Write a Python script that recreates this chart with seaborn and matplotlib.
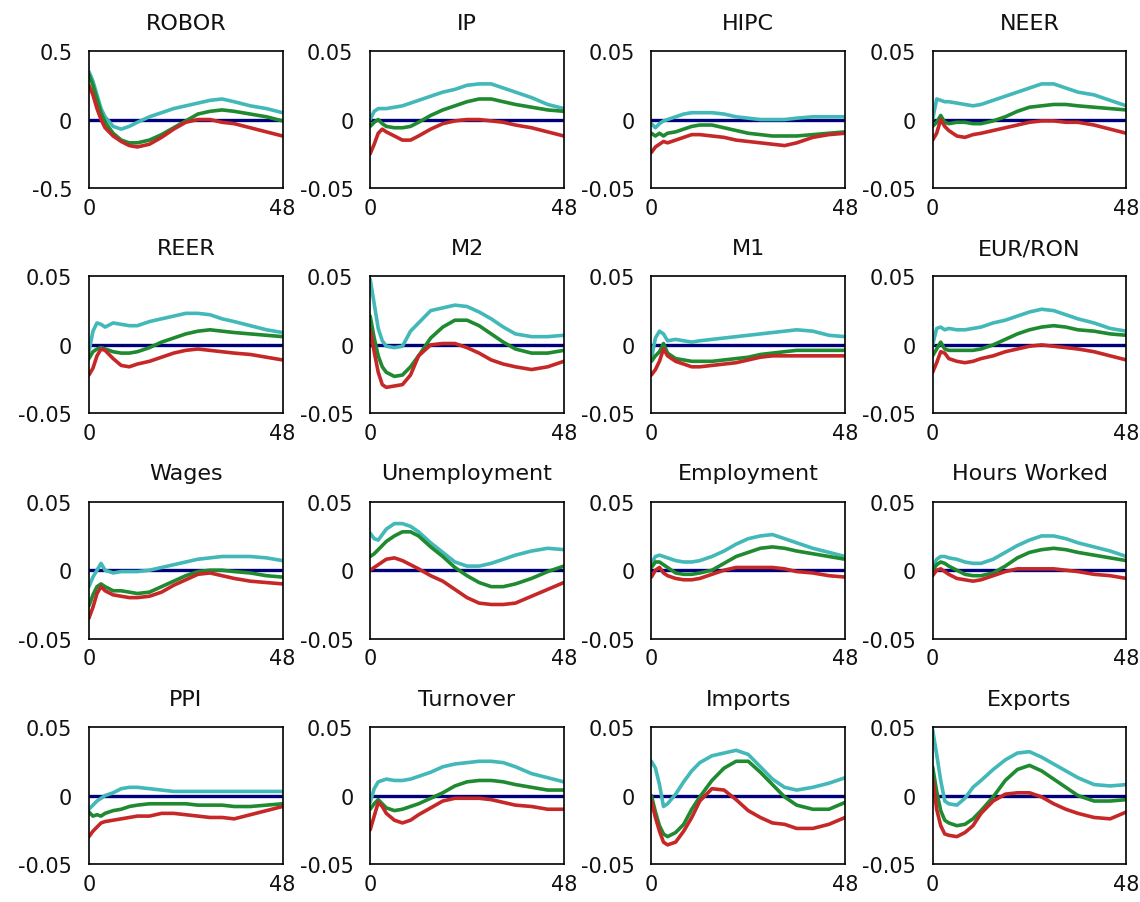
import matplotlib
matplotlib.use("Agg")
import matplotlib.pyplot as plt
import seaborn as sns
import pandas as pd

HORIZON = [0, 1, 2, 3, 4, 6, 8, 10, 12, 15, 18, 21, 24, 27, 30, 33, 36, 40, 44, 48]

TITLES = ["ROBOR", "IP", "HIPC", "NEER",
          "REER", "M2", "M1", "EUR/RON",
          "Wages", "Unemployment", "Employment", "Hours Worked",
          "PPI", "Turnover", "Imports", "Exports"]

# Each panel: (upper band, median, lower band)
ROBOR = (
    [0.35, 0.28, 0.18, 0.08, 0.02, -0.05, -0.07, -0.05, -0.02, 0.02, 0.05, 0.08, 0.10, 0.12, 0.14, 0.15, 0.13, 0.10, 0.08, 0.05],
    [0.33, 0.25, 0.15, 0.05, -0.02, -0.10, -0.15, -0.17, -0.17, -0.15, -0.11, -0.06, -0.01, 0.04, 0.06, 0.07, 0.06, 0.04, 0.02, -0.01],
    [0.25, 0.18, 0.08, 0.00, -0.06, -0.12, -0.16, -0.19, -0.20, -0.18, -0.13, -0.07, -0.02, 0.00, 0.00, -0.02, -0.03, -0.06, -0.09, -0.12],
)
IP = (
    [0.000, 0.006, 0.008, 0.008, 0.008, 0.009, 0.010, 0.012, 0.014, 0.017, 0.020, 0.022, 0.025, 0.026, 0.026, 0.023, 0.020, 0.016, 0.011, 0.008],
    [-0.005, -0.002, 0.000, -0.003, -0.005, -0.006, -0.006, -0.005, -0.002, 0.003, 0.007, 0.010, 0.013, 0.015, 0.015, 0.013, 0.011, 0.009, 0.007, 0.006],
    [-0.025, -0.018, -0.010, -0.007, -0.009, -0.012, -0.015, -0.015, -0.012, -0.007, -0.003, -0.001, 0.000, 0.000, -0.001, -0.002, -0.004, -0.006, -0.009, -0.012],
)
HIPC = (
    [-0.003, -0.006, -0.003, -0.001, 0.000, 0.002, 0.004, 0.005, 0.005, 0.005, 0.004, 0.002, 0.001, 0.000, 0.000, 0.000, 0.001, 0.002, 0.002, 0.002],
    [-0.010, -0.012, -0.010, -0.012, -0.010, -0.009, -0.007, -0.005, -0.004, -0.004, -0.006, -0.008, -0.010, -0.011, -0.012, -0.012, -0.012, -0.011, -0.010, -0.009],
    [-0.024, -0.020, -0.018, -0.016, -0.017, -0.015, -0.013, -0.011, -0.011, -0.012, -0.013, -0.015, -0.016, -0.017, -0.018, -0.019, -0.017, -0.013, -0.011, -0.010],
)
NEER = (
    [0.000, 0.015, 0.014, 0.013, 0.013, 0.012, 0.011, 0.010, 0.011, 0.014, 0.017, 0.020, 0.023, 0.026, 0.026, 0.023, 0.020, 0.018, 0.014, 0.010],
    [-0.005, -0.002, 0.003, -0.002, -0.003, -0.002, -0.002, -0.003, -0.003, -0.001, 0.002, 0.006, 0.009, 0.010, 0.011, 0.011, 0.010, 0.009, 0.008, 0.007],
    [-0.015, -0.010, 0.000, -0.005, -0.008, -0.012, -0.013, -0.011, -0.010, -0.008, -0.006, -0.004, -0.002, -0.001, -0.001, -0.002, -0.002, -0.004, -0.007, -0.010],
)
REER = (
    [-0.005, 0.010, 0.016, 0.015, 0.013, 0.016, 0.015, 0.014, 0.014, 0.017, 0.019, 0.021, 0.023, 0.023, 0.022, 0.019, 0.017, 0.014, 0.011, 0.009],
    [-0.010, -0.005, -0.003, -0.002, -0.003, -0.005, -0.006, -0.006, -0.005, -0.002, 0.002, 0.005, 0.008, 0.010, 0.011, 0.010, 0.009, 0.008, 0.007, 0.006],
    [-0.022, -0.017, -0.008, -0.003, -0.004, -0.010, -0.015, -0.016, -0.014, -0.012, -0.009, -0.006, -0.004, -0.003, -0.004, -0.005, -0.006, -0.007, -0.009, -0.011],
)
M2 = (
    [0.048, 0.030, 0.012, 0.003, -0.001, -0.002, -0.001, 0.010, 0.016, 0.025, 0.027, 0.029, 0.028, 0.024, 0.019, 0.013, 0.008, 0.006, 0.006, 0.007],
    [0.021, 0.005, -0.008, -0.016, -0.020, -0.023, -0.022, -0.016, -0.008, 0.005, 0.013, 0.018, 0.018, 0.014, 0.008, 0.002, -0.003, -0.006, -0.006, -0.004],
    [0.011, -0.005, -0.020, -0.029, -0.031, -0.030, -0.029, -0.022, -0.008, 0.000, 0.001, 0.001, -0.002, -0.006, -0.011, -0.014, -0.016, -0.018, -0.016, -0.012],
)
M1 = (
    [-0.010, 0.005, 0.010, 0.008, 0.003, 0.004, 0.003, 0.002, 0.003, 0.004, 0.005, 0.006, 0.007, 0.008, 0.009, 0.010, 0.011, 0.010, 0.007, 0.006],
    [-0.012, -0.008, -0.005, 0.001, -0.006, -0.010, -0.011, -0.012, -0.012, -0.012, -0.011, -0.010, -0.009, -0.007, -0.006, -0.005, -0.004, -0.004, -0.004, -0.004],
    [-0.022, -0.018, -0.012, -0.003, -0.008, -0.012, -0.014, -0.016, -0.016, -0.015, -0.014, -0.013, -0.011, -0.009, -0.008, -0.008, -0.008, -0.008, -0.008, -0.008],
)
EURRON = (
    [0.000, 0.012, 0.013, 0.011, 0.012, 0.011, 0.011, 0.012, 0.013, 0.016, 0.018, 0.021, 0.024, 0.026, 0.025, 0.022, 0.019, 0.016, 0.012, 0.010],
    [-0.008, -0.003, 0.002, -0.003, -0.004, -0.004, -0.004, -0.004, -0.003, 0.000, 0.004, 0.008, 0.011, 0.013, 0.014, 0.013, 0.011, 0.010, 0.008, 0.007],
    [-0.020, -0.013, -0.005, -0.006, -0.010, -0.012, -0.013, -0.012, -0.010, -0.008, -0.005, -0.003, -0.001, 0.000, -0.001, -0.002, -0.003, -0.005, -0.008, -0.011],
)
WAGES = (
    [-0.012, -0.005, 0.000, 0.005, 0.000, -0.002, -0.001, -0.001, -0.001, 0.000, 0.002, 0.004, 0.006, 0.008, 0.009, 0.010, 0.010, 0.010, 0.009, 0.007],
    [-0.026, -0.018, -0.012, -0.010, -0.012, -0.015, -0.015, -0.016, -0.017, -0.016, -0.012, -0.008, -0.004, -0.001, 0.000, 0.000, -0.001, -0.002, -0.004, -0.005],
    [-0.035, -0.027, -0.017, -0.012, -0.015, -0.018, -0.019, -0.020, -0.020, -0.019, -0.016, -0.011, -0.007, -0.003, -0.002, -0.004, -0.006, -0.008, -0.009, -0.010],
)
UNEMP = (
    [0.027, 0.023, 0.022, 0.026, 0.030, 0.034, 0.034, 0.032, 0.028, 0.020, 0.013, 0.006, 0.003, 0.003, 0.005, 0.008, 0.011, 0.014, 0.016, 0.015],
    [0.010, 0.012, 0.015, 0.018, 0.021, 0.025, 0.028, 0.028, 0.025, 0.017, 0.010, 0.002, -0.004, -0.009, -0.012, -0.012, -0.010, -0.006, -0.001, 0.003],
    [0.000, 0.002, 0.004, 0.006, 0.008, 0.009, 0.007, 0.004, 0.001, -0.004, -0.008, -0.014, -0.020, -0.024, -0.025, -0.025, -0.024, -0.019, -0.014, -0.009],
)
EMPLOY = (
    [0.005, 0.010, 0.011, 0.010, 0.009, 0.007, 0.006, 0.006, 0.007, 0.010, 0.014, 0.019, 0.023, 0.025, 0.026, 0.023, 0.020, 0.016, 0.013, 0.010],
    [0.002, 0.006, 0.006, 0.004, 0.002, -0.002, -0.003, -0.003, -0.002, 0.000, 0.005, 0.010, 0.013, 0.016, 0.017, 0.016, 0.014, 0.012, 0.010, 0.008],
    [-0.005, 0.000, 0.002, -0.002, -0.004, -0.006, -0.007, -0.007, -0.006, -0.003, 0.000, 0.002, 0.002, 0.002, 0.002, 0.001, -0.001, -0.002, -0.004, -0.005],
)
HOURS = (
    [0.002, 0.008, 0.010, 0.010, 0.009, 0.008, 0.006, 0.005, 0.005, 0.008, 0.013, 0.018, 0.022, 0.025, 0.025, 0.023, 0.020, 0.017, 0.014, 0.010],
    [0.000, 0.004, 0.006, 0.005, 0.003, 0.000, -0.003, -0.004, -0.004, -0.002, 0.003, 0.009, 0.013, 0.015, 0.016, 0.015, 0.013, 0.011, 0.009, 0.007],
    [-0.004, 0.000, 0.001, -0.001, -0.003, -0.006, -0.007, -0.008, -0.007, -0.004, -0.001, 0.001, 0.001, 0.001, 0.001, 0.000, -0.001, -0.003, -0.004, -0.006],
)
PPI = (
    [-0.010, -0.007, -0.004, -0.002, 0.000, 0.002, 0.005, 0.006, 0.006, 0.005, 0.004, 0.003, 0.003, 0.003, 0.003, 0.003, 0.003, 0.003, 0.003, 0.003],
    [-0.012, -0.015, -0.014, -0.015, -0.013, -0.011, -0.010, -0.008, -0.007, -0.006, -0.006, -0.006, -0.006, -0.007, -0.007, -0.007, -0.008, -0.008, -0.007, -0.006],
    [-0.030, -0.026, -0.023, -0.020, -0.019, -0.018, -0.017, -0.016, -0.015, -0.015, -0.013, -0.013, -0.014, -0.015, -0.016, -0.016, -0.017, -0.014, -0.011, -0.008],
)
TURNOVER = (
    [-0.005, 0.005, 0.010, 0.011, 0.012, 0.011, 0.011, 0.012, 0.014, 0.017, 0.021, 0.023, 0.024, 0.025, 0.025, 0.024, 0.021, 0.016, 0.013, 0.010],
    [-0.010, -0.006, -0.003, -0.006, -0.009, -0.011, -0.010, -0.008, -0.006, -0.002, 0.002, 0.007, 0.010, 0.011, 0.011, 0.010, 0.008, 0.006, 0.004, 0.004],
    [-0.025, -0.015, -0.005, -0.008, -0.013, -0.018, -0.020, -0.018, -0.014, -0.009, -0.004, -0.002, -0.002, -0.002, -0.003, -0.005, -0.007, -0.008, -0.010, -0.010],
)
IMPORTS = (
    [0.025, 0.020, 0.008, -0.008, -0.006, 0.001, 0.010, 0.018, 0.024, 0.029, 0.031, 0.033, 0.030, 0.021, 0.012, 0.006, 0.004, 0.006, 0.009, 0.013],
    [0.000, -0.012, -0.022, -0.028, -0.030, -0.027, -0.021, -0.010, -0.001, 0.011, 0.020, 0.025, 0.025, 0.017, 0.008, -0.001, -0.007, -0.010, -0.010, -0.005],
    [-0.004, -0.016, -0.026, -0.034, -0.036, -0.034, -0.026, -0.016, -0.004, 0.005, 0.004, -0.003, -0.011, -0.016, -0.020, -0.021, -0.024, -0.024, -0.021, -0.016],
)
EXPORTS = (
    [0.048, 0.030, 0.011, -0.004, -0.006, -0.007, -0.002, 0.006, 0.011, 0.019, 0.026, 0.031, 0.032, 0.028, 0.023, 0.018, 0.013, 0.008, 0.007, 0.008],
    [0.021, 0.003, -0.011, -0.018, -0.020, -0.022, -0.021, -0.017, -0.011, -0.001, 0.011, 0.019, 0.022, 0.018, 0.012, 0.006, 0.000, -0.004, -0.004, -0.003],
    [0.013, -0.010, -0.022, -0.028, -0.029, -0.030, -0.027, -0.022, -0.013, -0.004, 0.001, 0.002, 0.002, -0.001, -0.006, -0.010, -0.013, -0.016, -0.017, -0.012],
)

PANELS = [ROBOR, IP, HIPC, NEER, REER, M2, M1, EURRON,
          WAGES, UNEMP, EMPLOY, HOURS, PPI, TURNOVER, IMPORTS, EXPORTS]
YLIMS = [0.5] + [0.05] * 15
BANDS = ["upper", "median", "lower"]
PALETTE = {"upper": "#42b8b8", "median": "#1f8a30", "lower": "#c62828"}

sns.set_theme(style="white")
plt.rcParams["font.family"] = ["DejaVu Sans"]

fig, axes = plt.subplots(4, 4, figsize=(11.4, 9.03), dpi=100)
fig.subplots_adjust(left=0.078, right=0.988, top=0.9424, bottom=0.042,
                    wspace=0.452, hspace=0.644)

for ax, title, panel, lim in zip(axes.flat, TITLES, PANELS, YLIMS):
    rows = []
    for band, vals in zip(BANDS, panel):
        for h, v in zip(HORIZON, vals):
            rows.append({"h": h, "v": v, "band": band})
    df = pd.DataFrame(rows)
    ax.axhline(0, color="#00007a", lw=2.4, zorder=1)
    sns.lineplot(data=df, x="h", y="v", hue="band", palette=PALETTE,
                 hue_order=BANDS, legend=False, ax=ax, linewidth=2.6,
                 estimator=None, sort=False, zorder=2)
    ax.set_xlim(0, 48)
    ax.set_ylim(-lim, lim)
    ax.set_xticks([0, 48])
    ax.set_xticklabels(["0", "48"])
    ax.set_yticks([-lim, 0, lim])
    ax.set_yticklabels([f"{-lim:g}", "0", f"{lim:g}"])
    ax.set_xlabel("")
    ax.set_ylabel("")
    ax.set_title(title, fontsize=16, color="#111111", pad=16)
    ax.tick_params(axis="both", length=0, labelsize=15, colors="#111111")
    ax.tick_params(axis="y", pad=12)
    ax.tick_params(axis="x", pad=7)
    for s in ax.spines.values():
        s.set_visible(True)
        s.set_color("black")
        s.set_linewidth(1.2)
    ax.set_facecolor("white")

fig.savefig("out.png", dpi=100, facecolor="white")
